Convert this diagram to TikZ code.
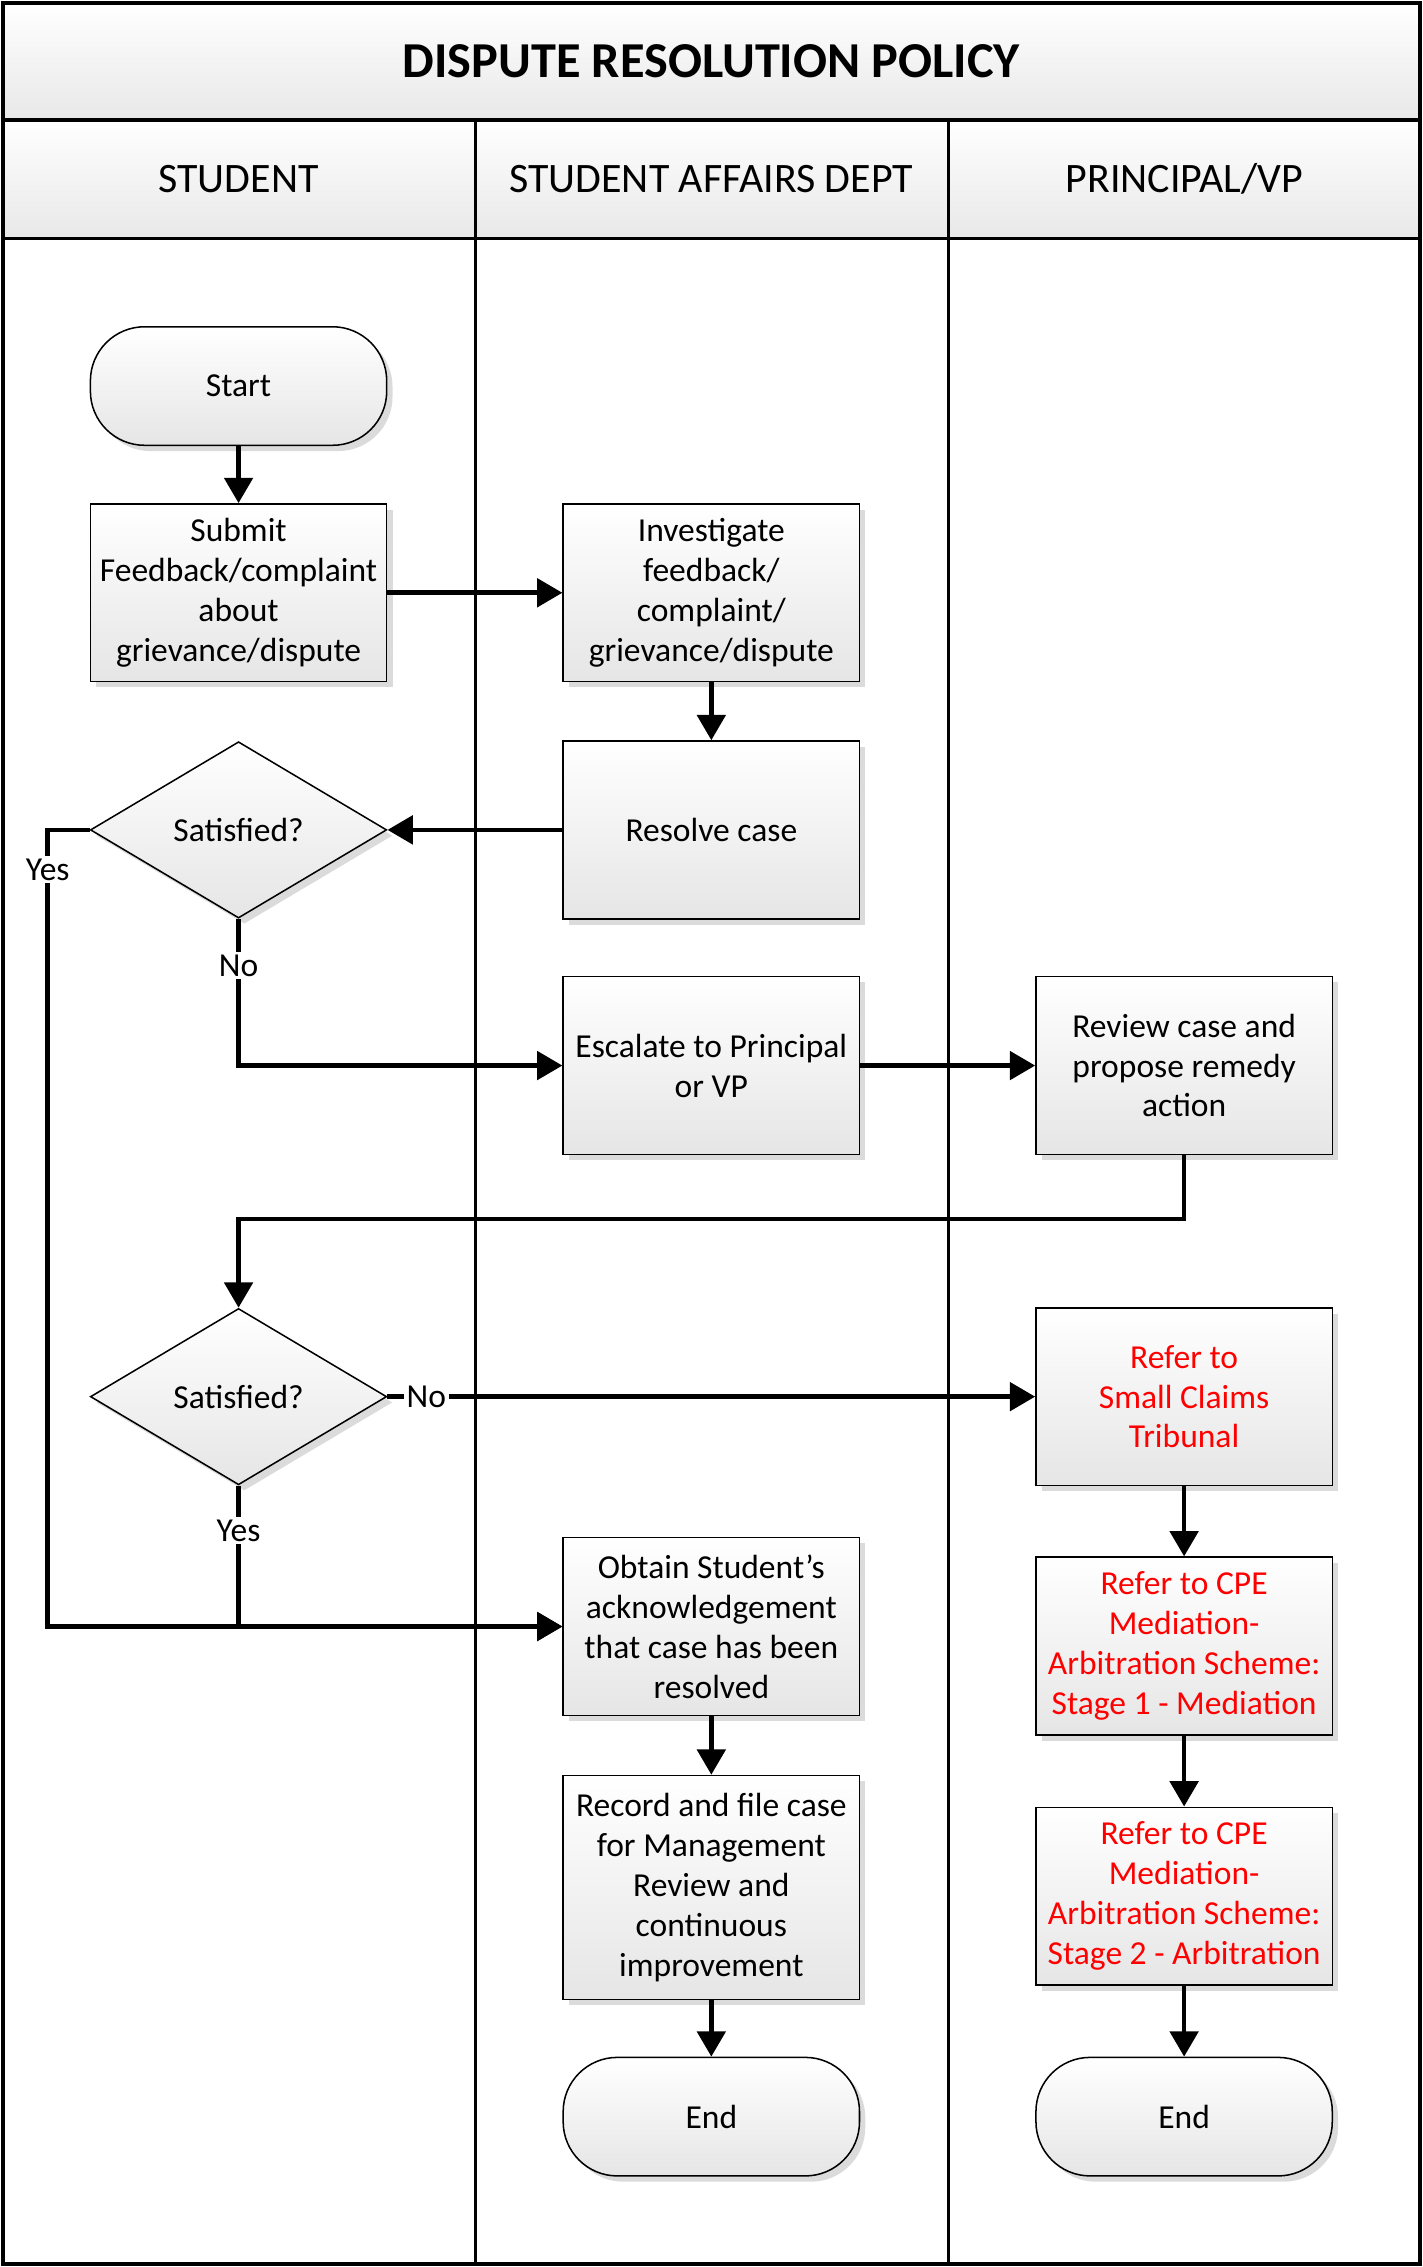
\documentclass[tikz,border=0pt]{standalone}
\usepackage{fontspec}
\setmainfont{Carlito}
\usetikzlibrary{arrows.meta,shadows,shapes.geometric,positioning}
\pgfdeclarelayer{lanelayer}
\pgfdeclarelayer{nodelayer}
\pgfdeclarelayer{edgelayer}
\pgfsetlayers{lanelayer,nodelayer,main,edgelayer}
\tikzset{
	base/.style={draw=black, line width=0.6pt, top color=white, bottom color=black!10,
		drop shadow={shadow xshift=0.8mm, shadow yshift=-0.8mm, fill=black!14, opacity=1},
		align=center, font=\fontsize{13.2}{15.7}\selectfont, inner sep=2pt},
	process/.style={base, rectangle, minimum width=4.1cm, minimum height=2.46cm},
	terminal/.style={base, rectangle, rounded corners=0.75cm, minimum width=4.1cm, minimum height=1.64cm},
	decision/.style={base, diamond, minimum width=4.1cm, minimum height=2.44cm, inner sep=0pt},
	ext/.style={text=red},
	flow/.style={line width=1.8pt, -{Triangle[length=3.5mm,width=3.9mm]}},
	lbl/.style={fill=white, inner sep=1pt, font=\fontsize{13.2}{15.7}\selectfont},
	lane/.style={line width=1.4pt},
	head/.style={line width=1.4pt, top color=white, bottom color=black!9},
}

\begin{document}
\begin{tikzpicture}[x=0.02cm, y=-0.02cm]
	\useasboundingbox (0,0) rectangle (984,1568);
	\begin{pgfonlayer}{lanelayer}
		\draw [head] (2,2) rectangle (982,83);
		\draw [head] (2,83) rectangle (982,165);
		\draw [lane] (2,2) rectangle (982,1566);
		\draw [lane] (329,83) -- (329,1566);
		\draw [lane] (656,83) -- (656,1566);
		\node [font=\fontsize{19.8}{24}\selectfont\bfseries] (18) at (492,42) {DISPUTE RESOLUTION POLICY};
		\node [font=\fontsize{16.5}{20}\selectfont] (19) at (165,124) {STUDENT};
		\node [font=\fontsize{16.5}{20}\selectfont] (20) at (492,124) {STUDENT AFFAIRS DEPT};
		\node [font=\fontsize{16.5}{20}\selectfont] (21) at (819,124) {PRINCIPAL/VP};
	\end{pgfonlayer}
	\begin{pgfonlayer}{nodelayer}
		\node [terminal] (0) at (165,267) {Start};
		\node [process] (1) at (165,410) {Submit\\Feedback/complaint\\about\\grievance/dispute};
		\node [process] (2) at (492,410) {Investigate\\feedback/\\complaint/\\grievance/dispute};
		\node [process] (3) at (492,574) {Resolve case};
		\node [decision] (4) at (165,574) {Satisfied?};
		\node [process] (5) at (492,737) {Escalate to Principal\\or VP};
		\node [process] (6) at (819,737) {Review case and\\propose remedy\\action};
		\node [decision] (7) at (165,966) {Satisfied?};
		\node [process, ext] (8) at (819,966) {Refer to\\Small Claims\\Tribunal};
		\node [process, ext] (9) at (819,1138.5) {Refer to CPE\\Mediation-\\Arbitration Scheme:\\Stage 1 - Mediation};
		\node [process, ext] (10) at (819,1311.5) {Refer to CPE\\Mediation-\\Arbitration Scheme:\\Stage 2 - Arbitration};
		\node [terminal] (11) at (819,1464) {End};
		\node [process] (12) at (492,1125) {Obtain Student’s\\acknowledgement\\that case has been\\resolved};
		\node [process, minimum height=3.1cm] (13) at (492,1305.5) {Record and file case\\for Management\\Review and\\continuous\\improvement};
		\node [terminal] (14) at (492,1464) {End};
		\coordinate (15) at (33,574);
		\coordinate (16) at (33,1125);
		\coordinate (17) at (165,843);
	\end{pgfonlayer}
	\begin{pgfonlayer}{edgelayer}
		\draw [flow] (0) -- (1);
		\draw [flow] (1) -- (2);
		\draw [flow] (2) -- (3);
		\draw [flow] (3) -- (4);
		\draw [flow] (4) |- node [lbl, pos=0.16] {No} (5);
		\draw [flow] (4.west) -- (15) -- node [lbl, pos=0.05] {Yes} (16) -- (12.west);
		\draw [flow] (5) -- (6);
		\draw [flow] (6.south) |- (17) -- (7.north);
		\draw [flow] (7) -- node [lbl, pos=0.06] {No} (8);
		\draw [flow] (7.south) |- node [lbl, pos=0.16] {Yes} (12.west);
		\draw [flow] (12) -- (13);
		\draw [flow] (13) -- (14);
		\draw [flow] (8) -- (9);
		\draw [flow] (9) -- (10);
		\draw [flow] (10) -- (11);
	\end{pgfonlayer}
\end{tikzpicture}
\end{document}
